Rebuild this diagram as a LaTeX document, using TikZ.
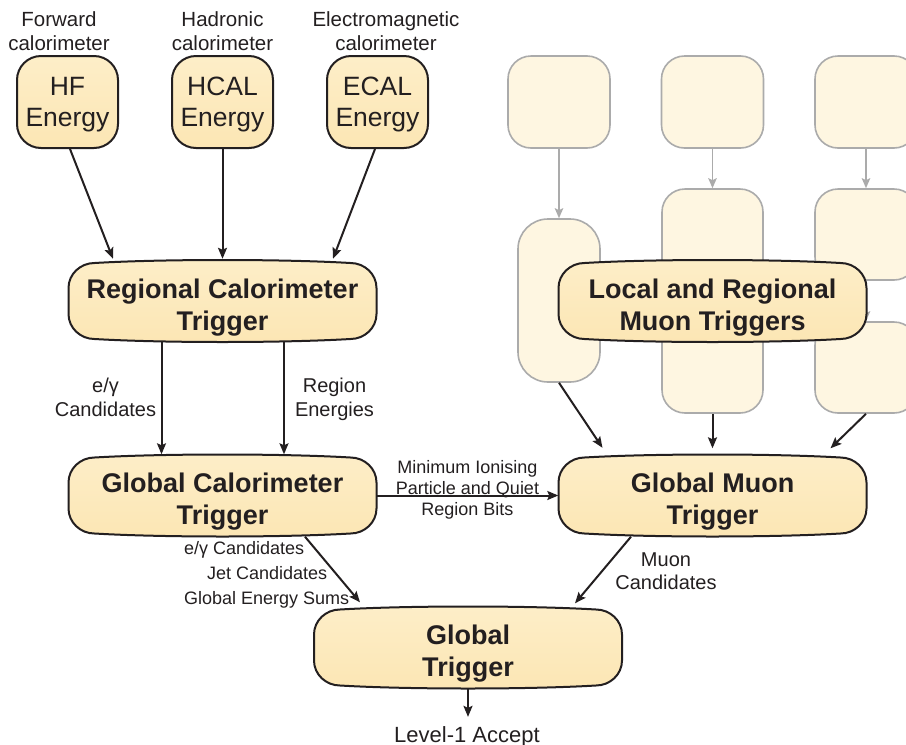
\documentclass[tikz,border=0pt]{standalone}
\usepackage{fontspec}
\setmainfont{Liberation Sans}
\usetikzlibrary{arrows.meta,calc}

\definecolor{ink}{HTML}{231F20}
\definecolor{boxtop}{HTML}{FDEEC8}
\definecolor{boxbot}{HTML}{FCE6B4}
\definecolor{fadefill}{HTML}{FEF6E1}
\definecolor{fadeline}{HTML}{ABABAB}

\tikzset{
  % outline of the wide trigger boxes: rounded corners, slightly bulging top and bottom
  trigframe/.style={draw=ink, line width=2pt, top color=boxtop, bottom color=boxbot},
  trigbox/.pic={
    \path[trigframe] (-154,0) -- (-154,-13)
      .. controls (-154,-27) and (-142,-38) .. (-128,-38)
      .. controls (-60,-42) and (60,-42) .. (128,-38)
      .. controls (142,-38) and (154,-27) .. (154,-13) -- (154,13)
      .. controls (154,27) and (142,38) .. (128,38)
      .. controls (60,42) and (-60,42) .. (-128,38)
      .. controls (-142,38) and (-154,27) .. (-154,13) -- cycle;
  },
  trig/.style={minimum width=308pt, minimum height=82pt, inner sep=0pt, align=center,
    text=ink, text depth=0pt, font=\fontsize{27}{32}\selectfont\bfseries},
  ebox/.style={draw=ink, line width=2pt, rounded corners=24pt, top color=boxtop,
    bottom color=boxbot, minimum width=101pt, minimum height=92pt, inner sep=0pt,
    align=center, text=ink, text depth=0pt, font=\fontsize{26.5}{31}\selectfont},
  fbox/.style={draw=fadeline, fill=fadefill, line width=1.6pt, rounded corners=23pt,
    inner sep=0pt},
  lab/.style={text=ink, inner sep=1pt, align=center, text depth=0pt},
  arr/.style={draw=ink, line width=2pt, -{Stealth[length=11pt,width=9pt,inset=2pt]}},
  farr/.style={draw=fadeline, line width=1.6pt, -{Stealth[length=10pt,width=8.5pt,inset=2pt]}},
}

\begin{document}
\begin{tikzpicture}[x=1pt, y=-1pt]
\useasboundingbox (0,0) rectangle (906,745);
\clip (0,0) rectangle (906,745);

% calorimeter inputs
\node[lab, font=\fontsize{20.5}{24}\selectfont] (tfwd) at (59,31) {Forward\\calorimeter};
\node[lab, font=\fontsize{20.5}{24}\selectfont] (thad) at (222.5,31) {Hadronic\\calorimeter};
\node[lab, font=\fontsize{20.5}{24}\selectfont] (tem) at (386,31) {Electromagnetic\\calorimeter};

\node[ebox] (hf) at (67.5,102) {HF\\Energy};
\node[ebox] (hcal) at (222.5,102) {HCAL\\Energy};
\node[ebox] (ecal) at (377.5,102) {ECAL\\Energy};

% muon detector chain, drawn faint behind the muon trigger box
\node[fbox, minimum width=102pt, minimum height=92pt] (m1a) at (559,102) {};
\node[fbox, minimum width=102pt, minimum height=92pt] (m2a) at (712.5,102) {};
\node[fbox, minimum width=102pt, minimum height=92pt] (m3a) at (866,102) {};
\node[fbox, minimum width=82pt, minimum height=163pt, rounded corners=30pt] (m1b) at (559,300.5) {};
\node[fbox, minimum width=101pt, minimum height=224pt] (m2b) at (712.5,301) {};
\node[fbox, minimum width=102pt, minimum height=91pt] (m3b) at (866,234.5) {};
\node[fbox, minimum width=102pt, minimum height=91pt] (m3c) at (866,367.5) {};

\draw[farr] (m1a.south) -- (m1b.north);
\draw[farr] (m2a.south) -- (m2b.north);
\draw[farr] (m3a.south) -- (m3b.north);
\draw[farr] (m3b.south) -- (m3c.north);

% trigger boxes
\pic at (222.5,301) {trigbox};
\node[trig] (rct) at (222.5,301) {\rule{0pt}{26pt}Regional Calorimeter\\Trigger};
\pic at (712.5,301) {trigbox};
\node[trig] (lmt) at (712.5,301) {\rule{0pt}{26pt}Local and Regional\\Muon Triggers};
\pic at (222.5,495.5) {trigbox};
\node[trig] (gct) at (222.5,495.5) {\rule{0pt}{26pt}Global Calorimeter\\Trigger};
\pic at (712.5,495.5) {trigbox};
\node[trig] (gmt) at (712.5,495.5) {\rule{0pt}{26pt}Global Muon\\Trigger};
\pic at (468,647.5) {trigbox};
\node[trig] (gt) at (468,647.5) {\rule{0pt}{26pt}Global\\Trigger};

% calorimeter energies into the regional trigger
\draw[arr] ($(hf.south)+(2.5,0)$) -- ($(rct.north)+(-109.5,-1)$);
\draw[arr] (hcal.south) -- ($(rct.north)+(0,-1)$);
\draw[arr] ($(ecal.south)+(-2.5,0)$) -- ($(rct.north)+(110.5,-1)$);

% regional to global calorimeter trigger
\draw[arr] ($(rct.south)+(-61,0)$) -- ($(gct.north)+(-61,0)$);
\draw[arr] ($(rct.south)+(61.5,0)$) -- ($(gct.north)+(61.5,0)$);
\node[lab, font=\fontsize{20}{24}\selectfont] (egam) at (105.5,397.7) {e/γ\\Candidates};
\node[lab, font=\fontsize{20}{24}\selectfont] (reg) at (334.5,397.7) {Region\\Energies};

% muon chain into the global muon trigger
\draw[arr] (m1b.south) -- ($(gmt.north)+(-110,-6.5)$);
\draw[arr] (m2b.south) -- ($(gmt.north)+(0,-6)$);
\draw[arr] (m3c.south) -- ($(gmt.north)+(118,-6)$);

% calorimeter to muon trigger
\draw[arr] (gct.east) -- (gmt.west);
\node[lab, font=\fontsize{18}{21}\selectfont] (mip) at (467.5,487.5) {Minimum Ionising\\Particle and Quiet\\Region Bits};

% into the global trigger
\draw[arr] ($(gct.south)+(82.5,0)$) -- ($(gt.north)+(-108,-4)$);
\draw[arr] ($(gmt.south)+(-81.5,0)$) -- ($(gt.north)+(107,-3)$);
\node[lab, font=\fontsize{18}{21}\selectfont, anchor=base west] (lga) at (183,554) {e/γ Candidates};
\node[lab, font=\fontsize{18}{21}\selectfont, anchor=base west] (lgb) at (206,579) {Jet Candidates};
\node[lab, font=\fontsize{18}{21}\selectfont, anchor=base west] (lgc) at (183,604) {Global Energy Sums};
\node[lab, font=\fontsize{20}{23}\selectfont] (muc) at (666,571.4) {Muon\\Candidates};

% output
\node[lab, font=\fontsize{22}{26}\selectfont, anchor=base, inner ysep=9pt] (l1) at (467,742) {Level-1 Accept};
\draw[arr] (gt.south) -- (gt.south |- l1.north);
\end{tikzpicture}
\end{document}
